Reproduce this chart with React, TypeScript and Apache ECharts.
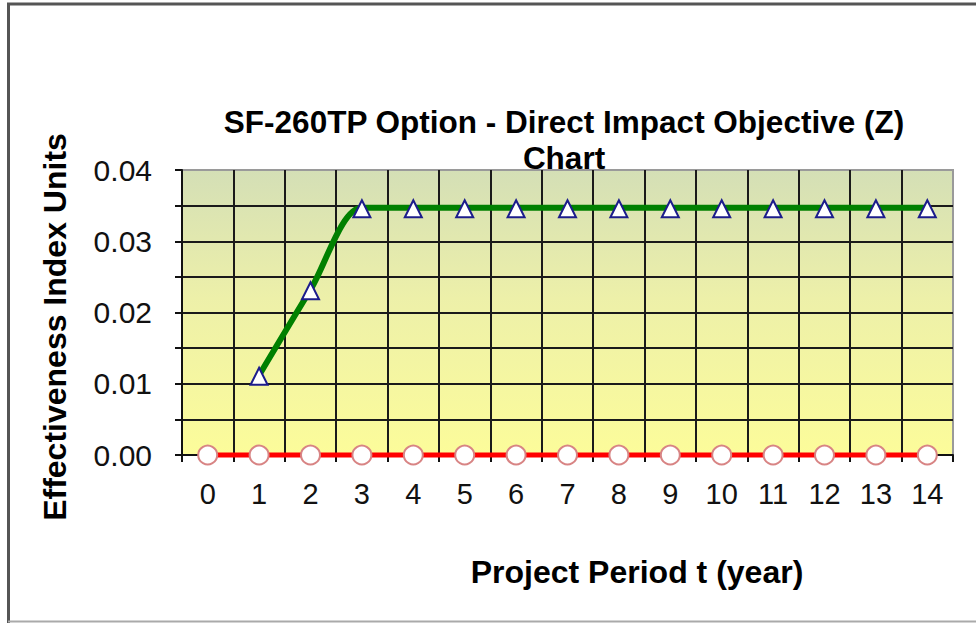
import React, { useEffect, useRef } from "react";
import * as echarts from "echarts";

const categories = ["0", "1", "2", "3", "4", "5", "6", "7", "8", "9", "10", "11", "12", "13", "14"];
const directImpact: (number | null)[] = [null, 0.0112, 0.0232, 0.0347, 0.0347, 0.0347, 0.0347, 0.0347, 0.0347, 0.0347, 0.0347, 0.0347, 0.0347, 0.0347, 0.0347];
const baseline: number[] = [0, 0, 0, 0, 0, 0, 0, 0, 0, 0, 0, 0, 0, 0, 0];

const titleText = "SF-260TP Option - Direct Impact Objective (Z)\nChart";
const yName = "Effectiveness Index Units";
const xName = "Project Period t (year)";

const FONT = "'Liberation Sans', Arial, sans-serif";

export default function App() {
  const ref = useRef<HTMLDivElement>(null);
  useEffect(() => {
    if (!ref.current) return;
    const chart = echarts.init(ref.current, null, { renderer: "svg" });
    chart.setOption({
      animation: false,
      backgroundColor: "#ffffff",
      title: {
        text: titleText,
        left: 559,
        top: 99,
        textAlign: "center",
        textStyle: { fontFamily: FONT, fontSize: 31.5, fontWeight: "bold", color: "#000", lineHeight: 36 },
      },
      grid: {
        left: 182,
        right: 23,
        top: 170,
        bottom: 168,
        show: true,
        borderColor: "#9a9a9a",
        borderWidth: 2,
        backgroundColor: new echarts.graphic.LinearGradient(0, 0, 0, 1, [
          { offset: 0, color: "#d4dfb6" },
          { offset: 0.45, color: "#edf0a9" },
          { offset: 1, color: "#fcfc9a" },
        ]),
      },
      xAxis: {
        type: "category",
        data: categories,
        boundaryGap: true,
        axisLine: { show: true, lineStyle: { color: "#111", width: 2 } },
        axisTick: { show: true, length: 7, lineStyle: { color: "#111", width: 2 } },
        axisLabel: { fontFamily: FONT, fontSize: 29, color: "#111", margin: 24 },
        splitLine: { show: true, showMinLine: false, showMaxLine: false, lineStyle: { color: "#1a1a1a", width: 2 } },
      },
      yAxis: {
        type: "value",
        min: 0,
        max: 0.04,
        interval: 0.005,
        axisLine: { show: true, lineStyle: { color: "#111", width: 2 } },
        axisTick: { show: true, length: 7, lineStyle: { color: "#111", width: 2 } },
        axisLabel: {
          fontFamily: FONT,
          fontSize: 30,
          color: "#111",
          margin: 30,
          formatter: (v: number) => (Math.round(v * 1000) % 10 === 0 ? v.toFixed(2) : ""),
        },
        splitLine: { show: true, showMinLine: false, showMaxLine: false, lineStyle: { color: "#1a1a1a", width: 2 } },
      },
      series: [
        {
          type: "line",
          data: baseline,
          clip: false,
          z: 3,
          lineStyle: { color: "#ff0000", width: 5 },
          symbol: "circle",
          symbolSize: 19,
          itemStyle: { color: "#ffffff", borderColor: "#d88484", borderWidth: 2 },
        },
        {
          type: "line",
          data: directImpact,
          clip: false,
          smooth: 0.3,
          z: 4,
          lineStyle: { color: "#008000", width: 6 },
          symbol: "triangle",
          symbolSize: 17,
          symbolOffset: [0, 1],
          itemStyle: { color: "#ffffff", borderColor: "#1c1c8c", borderWidth: 2 },
        },
      ],
      graphic: [
        {
          type: "text",
          x: 55,
          y: 327,
          rotation: Math.PI / 2,
          style: {
            text: yName,
            fontFamily: FONT,
            fontSize: 32,
            fontWeight: "bold",
            fill: "#000",
            align: "center",
            verticalAlign: "middle",
          },
        },
        {
          type: "text",
          x: 637,
          y: 572,
          style: {
            text: xName,
            fontFamily: FONT,
            fontSize: 32,
            fontWeight: "bold",
            fill: "#000",
            align: "center",
            verticalAlign: "middle",
          },
        },
        { type: "line", shape: { x1: 7, y1: 4, x2: 976, y2: 4 }, style: { stroke: "#555", lineWidth: 3 } },
        { type: "line", shape: { x1: 8.5, y1: 3, x2: 8.5, y2: 623 }, style: { stroke: "#555", lineWidth: 3 } },
        { type: "line", shape: { x1: 8, y1: 621.5, x2: 976, y2: 621.5 }, style: { stroke: "#aaa", lineWidth: 2 } },
      ],
    });
    return () => chart.dispose();
  }, []);
  return <div ref={ref} style={{ position: "fixed", left: 0, top: 0, width: 976, height: 623 }} />;
}
